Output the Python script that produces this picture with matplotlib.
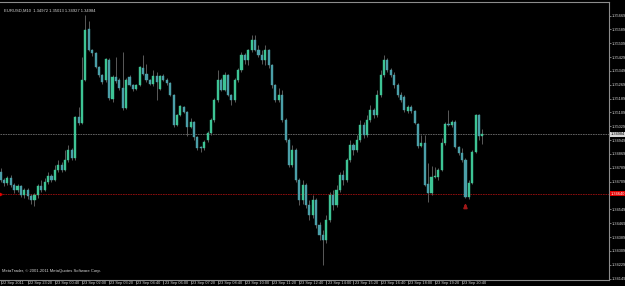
import matplotlib
matplotlib.use("Agg")
import matplotlib.pyplot as plt
import matplotlib.transforms as mtransforms

plt.rcParams["font.family"] = ["Liberation Sans Narrow", "Liberation Sans", "DejaVu Sans"]

# EURUSD M10 bars, 22 Sep 22:00 .. 23 Sep 21:40
opens = [1.34765, 1.34719, 1.34701, 1.34730, 1.34690, 1.34661, 1.34684, 1.34632, 1.34661, 1.34626,
         1.34603, 1.34632, 1.34684, 1.34661, 1.34707, 1.34742, 1.34719, 1.34776, 1.34805, 1.34776,
         1.34834, 1.34892, 1.34846, 1.35083, 1.35048, 1.35297, 1.35591, 1.35470, 1.35453, 1.35372,
         1.35326, 1.35297, 1.35412, 1.35187, 1.35314, 1.35297, 1.35250, 1.35135, 1.35314, 1.35268,
         1.35245, 1.35268, 1.35366, 1.35331, 1.35297, 1.35274, 1.35320, 1.35245, 1.35320, 1.35297,
         1.35279, 1.35210, 1.35037, 1.35094, 1.35141, 1.35112, 1.35025, 1.35054, 1.34967, 1.34909,
         1.34904, 1.34950, 1.34990, 1.35065, 1.35181, 1.35297, 1.35239, 1.35326, 1.35210, 1.35181,
         1.35297, 1.35354, 1.35441, 1.35412, 1.35470, 1.35528, 1.35470, 1.35441, 1.35412, 1.35470,
         1.35383, 1.35268, 1.35181, 1.35210, 1.35065, 1.34950, 1.34805, 1.34892, 1.34719, 1.34603,
         1.34690, 1.34574, 1.34516, 1.34603, 1.34459, 1.34401, 1.34372, 1.34487, 1.34632, 1.34574,
         1.34661, 1.34748, 1.34719, 1.34834, 1.34921, 1.34892, 1.34950, 1.35037, 1.34979, 1.35065,
         1.35123, 1.35094, 1.35210, 1.35326, 1.35412, 1.35354, 1.35326, 1.35268, 1.35210, 1.35198,
         1.35117, 1.35141, 1.35117, 1.35042, 1.34915, 1.34933, 1.34696, 1.34644, 1.34736, 1.34736,
         1.34776, 1.34933, 1.35042, 1.35037, 1.35054, 1.34909, 1.34875, 1.34834, 1.34620, 1.34701,
         1.34880, 1.35094, 1.34972]
highs = [1.34788, 1.34730, 1.34742, 1.34748, 1.34701, 1.34696, 1.34690, 1.34672, 1.34672, 1.34638,
         1.34644, 1.34696, 1.34719, 1.34730, 1.34765, 1.34753, 1.34805, 1.34834, 1.34823, 1.34892,
         1.34921, 1.34904, 1.35090, 1.35141, 1.35430, 1.35672, 1.35638, 1.35476, 1.35458, 1.35378,
         1.35331, 1.35424, 1.35424, 1.35326, 1.35430, 1.35308, 1.35458, 1.35308, 1.35326, 1.35274,
         1.35274, 1.35378, 1.35441, 1.35389, 1.35302, 1.35354, 1.35343, 1.35326, 1.35331, 1.35308,
         1.35285, 1.35216, 1.35100, 1.35152, 1.35146, 1.35117, 1.35077, 1.35060, 1.34973, 1.34915,
         1.34950, 1.35002, 1.35077, 1.35193, 1.35354, 1.35308, 1.35343, 1.35331, 1.35216, 1.35308,
         1.35366, 1.35458, 1.35453, 1.35476, 1.35557, 1.35557, 1.35499, 1.35470, 1.35499, 1.35476,
         1.35389, 1.35274, 1.35250, 1.35239, 1.35077, 1.34961, 1.34921, 1.34904, 1.34730, 1.34719,
         1.34701, 1.34603, 1.34632, 1.34615, 1.34476, 1.34430, 1.34516, 1.34649, 1.34661, 1.34690,
         1.34765, 1.34776, 1.34846, 1.34950, 1.34933, 1.34979, 1.35065, 1.35054, 1.35094, 1.35152,
         1.35135, 1.35239, 1.35354, 1.35441, 1.35424, 1.35366, 1.35343, 1.35279, 1.35227, 1.35210,
         1.35152, 1.35152, 1.35123, 1.35048, 1.34979, 1.34979, 1.34817, 1.34800, 1.34794, 1.34788,
         1.34961, 1.35054, 1.35123, 1.35065, 1.35065, 1.34915, 1.34904, 1.34846, 1.34719, 1.34892,
         1.35100, 1.35100, 1.35013]
lows = [1.34707, 1.34684, 1.34690, 1.34678, 1.34644, 1.34649, 1.34620, 1.34615, 1.34609, 1.34580,
        1.34568, 1.34615, 1.34649, 1.34655, 1.34696, 1.34707, 1.34713, 1.34765, 1.34765, 1.34771,
        1.34823, 1.34834, 1.34834, 1.35037, 1.35042, 1.35291, 1.35464, 1.35435, 1.35366, 1.35314,
        1.35274, 1.35285, 1.35181, 1.35169, 1.35279, 1.35239, 1.35123, 1.35129, 1.35262, 1.35233,
        1.35239, 1.35262, 1.35326, 1.35285, 1.35268, 1.35262, 1.35181, 1.35239, 1.35291, 1.35268,
        1.35204, 1.35025, 1.35031, 1.35089, 1.35106, 1.34973, 1.35019, 1.34950, 1.34892, 1.34880,
        1.34892, 1.34938, 1.34979, 1.35054, 1.35169, 1.35233, 1.35233, 1.35204, 1.35152, 1.35169,
        1.35285, 1.35343, 1.35389, 1.35383, 1.35458, 1.35464, 1.35430, 1.35389, 1.35383, 1.35366,
        1.35250, 1.35169, 1.35169, 1.35054, 1.34938, 1.34794, 1.34794, 1.34707, 1.34574, 1.34580,
        1.34557, 1.34487, 1.34499, 1.34441, 1.34372, 1.34227, 1.34355, 1.34476, 1.34545, 1.34562,
        1.34649, 1.34690, 1.34707, 1.34823, 1.34863, 1.34880, 1.34938, 1.34961, 1.34967, 1.35054,
        1.35077, 1.35083, 1.35198, 1.35314, 1.35343, 1.35314, 1.35250, 1.35198, 1.35169, 1.35112,
        1.35106, 1.35106, 1.35042, 1.34904, 1.34909, 1.34684, 1.34591, 1.34632, 1.34730, 1.34719,
        1.34771, 1.34921, 1.35031, 1.35025, 1.34904, 1.34863, 1.34823, 1.34615, 1.34609, 1.34696,
        1.34875, 1.34950, 1.34927]
closes = [1.34719, 1.34701, 1.34730, 1.34690, 1.34661, 1.34684, 1.34632, 1.34661, 1.34626, 1.34603,
          1.34632, 1.34684, 1.34661, 1.34707, 1.34742, 1.34719, 1.34776, 1.34805, 1.34776, 1.34834,
          1.34892, 1.34846, 1.35083, 1.35048, 1.35297, 1.35586, 1.35470, 1.35453, 1.35372, 1.35326,
          1.35285, 1.35418, 1.35193, 1.35314, 1.35291, 1.35250, 1.35135, 1.35297, 1.35268, 1.35245,
          1.35268, 1.35372, 1.35331, 1.35297, 1.35274, 1.35320, 1.35285, 1.35320, 1.35297, 1.35279,
          1.35210, 1.35037, 1.35094, 1.35146, 1.35112, 1.35025, 1.35054, 1.34967, 1.34904, 1.34904,
          1.34938, 1.34990, 1.35065, 1.35181, 1.35297, 1.35239, 1.35326, 1.35210, 1.35181, 1.35297,
          1.35354, 1.35441, 1.35412, 1.35470, 1.35528, 1.35470, 1.35441, 1.35412, 1.35470, 1.35383,
          1.35268, 1.35181, 1.35210, 1.35065, 1.34950, 1.34805, 1.34892, 1.34719, 1.34603, 1.34690,
          1.34574, 1.34516, 1.34603, 1.34459, 1.34401, 1.34372, 1.34487, 1.34632, 1.34574, 1.34661,
          1.34748, 1.34719, 1.34834, 1.34921, 1.34892, 1.34950, 1.35037, 1.34979, 1.35065, 1.35123,
          1.35094, 1.35210, 1.35326, 1.35412, 1.35354, 1.35326, 1.35268, 1.35210, 1.35181, 1.35123,
          1.35141, 1.35117, 1.35048, 1.34915, 1.34933, 1.34690, 1.34644, 1.34736, 1.34742, 1.34776,
          1.34933, 1.35042, 1.35037, 1.35054, 1.34909, 1.34875, 1.34834, 1.34620, 1.34701, 1.34880,
          1.35094, 1.34972, 1.34984]

price_ticks = [1.35669, 1.35589, 1.35509, 1.35429, 1.35349, 1.35269, 1.35189, 1.35109, 1.35029, 1.34949,
               1.34869, 1.34789, 1.34709, 1.34629, 1.34549, 1.34469, 1.34389, 1.34309, 1.34229, 1.34149]
time_ticks = [0, 8, 16, 24, 32, 40, 48, 56, 64, 72, 80, 88, 96, 104, 112, 120, 128, 136]
time_labels = ["22 Sep 2011", "22 Sep 23:20", "23 Sep 00:40", "23 Sep 02:00", "23 Sep 03:20",
               "23 Sep 04:40", "23 Sep 06:00", "23 Sep 07:20", "23 Sep 08:40", "23 Sep 10:00",
               "23 Sep 11:20", "23 Sep 12:40", "23 Sep 14:00", "23 Sep 15:20", "23 Sep 16:40",
               "23 Sep 18:00", "23 Sep 19:20", "23 Sep 20:40"]

bid = 1.34984
level = 1.34640
arrow_bar = 137
arrow_price = 1.34598

bull_col = "#3ec495"
bear_col = "#4b9fa8"
wick_col = "#5a5a5a"
axis_col = "#8c8c8c"
text_col = "#d8d8d8"
fs = 2.8

fig = plt.figure(figsize=(6.25, 2.86), dpi=100, facecolor="black")
ax = fig.add_axes([0, 6 / 286, 609 / 625, 278 / 286], facecolor="black")

n = len(opens)
xs = list(range(n))
ax.vlines(xs, lows, highs, color=wick_col, linewidth=0.7, zorder=2)
for i in xs:
    o, c = opens[i], closes[i]
    col = bull_col if c >= o else bear_col
    ax.bar(i, c - o, bottom=o, width=0.62, color=col, edgecolor=col, linewidth=0.3, zorder=3)

ax.axhline(bid, color="#6e6e6e", linewidth=0.6, linestyle=(0, (2, 1)), zorder=1)
ax.axhline(level, color="#a01010", linewidth=0.6, linestyle=(0, (2, 1)), zorder=1)
ax.plot([-0.1], [level], marker=">", markersize=2.5, color="#e00000", clip_on=False, zorder=5)
ax.annotate("", xy=(arrow_bar, arrow_price), xytext=(arrow_bar, arrow_price - 0.0005),
            arrowprops=dict(arrowstyle="-|>", color="#a01818", lw=1.3, mutation_scale=5), zorder=5)

ax.set_xlim(-0.165, 179.3)
ax.set_ylim(1.341406, 1.357474)

ax.yaxis.tick_right()
ax.set_yticks(price_ticks)
# the scale label under the red level box is hidden in the terminal
ax.set_yticklabels(["" if abs(p - level) < 0.0002 else f"{p:.5f}" for p in price_ticks])
ax.tick_params(axis="y", colors=axis_col, labelcolor=text_col, labelsize=fs, length=1.2, width=0.6, pad=0.6)
ax.set_xticks(time_ticks)
ax.set_xticklabels(time_labels)
ax.tick_params(axis="x", colors=axis_col, labelcolor=text_col, labelsize=fs, length=3, width=0.6, pad=-2.6)
shift = mtransforms.ScaledTranslation(1.2 / 100, 0, fig.dpi_scale_trans)
for lab in ax.get_xticklabels():
    lab.set_horizontalalignment("left")
    lab.set_transform(lab.get_transform() + shift)

for side in ["top", "right", "bottom"]:
    ax.spines[side].set_color(axis_col)
    ax.spines[side].set_linewidth(0.8)
ax.spines["left"].set_visible(False)

# price boxes on the scale
ax.text(1.002, bid, f"{bid:.5f}", transform=ax.get_yaxis_transform(), fontsize=fs, color="black",
        va="center", ha="left", bbox=dict(boxstyle="square,pad=0.12", fc="#d8d8d8", ec="none"), zorder=6, clip_on=False)
ax.text(1.002, level, f"{level:.5f}", transform=ax.get_yaxis_transform(), fontsize=fs, color="white",
        va="center", ha="left", bbox=dict(boxstyle="square,pad=0.12", fc="#e00000", ec="none"), zorder=6, clip_on=False)

ax.text(0.006, 0.975, "EURUSD,M10  1.34972 1.35013 1.34927 1.34984", transform=ax.transAxes,
        fontsize=3.0, color=text_col, va="top", ha="left")
ax.text(0.004, 0.025, "MetaTrader, \u00a9 2001-2011 MetaQuotes Software Corp.", transform=ax.transAxes,
        fontsize=3.0, color=text_col, va="bottom", ha="left")

fig.savefig("out.png", dpi=100, facecolor="black")
